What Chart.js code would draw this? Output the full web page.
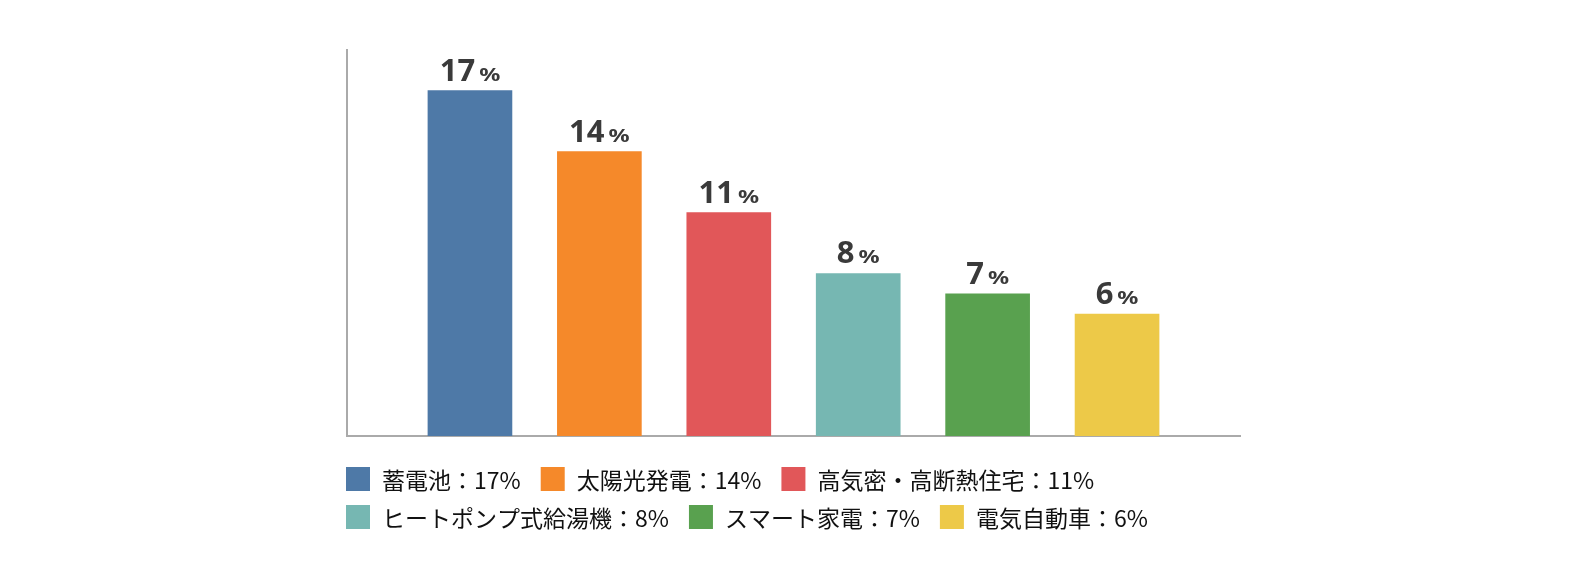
<!DOCTYPE html>
<html lang="ja">

<head>
    <meta charset="UTF-8">
    <title>省エネ設備 導入率</title>
    <style>
        html, body {
            margin: 0;
            padding: 0;
            background: #fff;
        }

        #wrap {
            width: 1584px;
            height: 580px;
        }
    </style>
</head>

<body>
    <div id="wrap">
        <canvas id="chart" width="1584" height="580"></canvas>
    </div>
    <script src="https://cdn.jsdelivr.net/npm/chart.js"></script>
    <script>
        // data
        const categories = ['蓄電池', '太陽光発電', '高気密・高断熱住宅', 'ヒートポンプ式給湯機', 'スマート家電', '電気自動車'];
        const values = [17, 14, 11, 8, 7, 6];
        const barColors = ['#4e79a7', '#f5892a', '#e15759', '#76b7b2', '#59a14f', '#edc948'];
        const yMax = 19;

        // value labels above the bars: big number + smaller "%"
        const valueLabels = {
            id: 'valueLabels',
            afterDatasetsDraw(chart) {
                const ctx = chart.ctx;
                const meta = chart.getDatasetMeta(0);
                ctx.save();
                ctx.fillStyle = '#3a3a3a';
                ctx.textBaseline = 'alphabetic';
                ctx.textAlign = 'left';
                meta.data.forEach((bar, i) => {
                    const num = String(values[i]);
                    ctx.font = 'bold 31px "Noto Sans"';
                    const wNum = ctx.measureText(num).width;
                    ctx.font = 'bold 18px "Noto Sans"';
                    const sx = 1.3;
                    const wPct = ctx.measureText('%').width * sx;
                    const gap = 4;
                    const total = wNum + gap + wPct;
                    const x0 = bar.x - total / 2;
                    const y = bar.y - 10;
                    ctx.font = 'bold 31px "Noto Sans"';
                    ctx.fillText(num, x0, y);
                    ctx.save();
                    ctx.translate(x0 + wNum + gap, y);
                    ctx.scale(sx, 1);
                    ctx.font = 'bold 18px "Noto Sans"';
                    ctx.fillText('%', 0, 0);
                    ctx.restore();
                });
                ctx.restore();
            }
        };

        // legend under the chart, left aligned with the y axis
        const rowLegend = {
            id: 'rowLegend',
            afterDraw(chart) {
                const ctx = chart.ctx;
                const area = chart.chartArea;
                const box = 24;
                const textGap = 12;
                const itemGap = 20;
                const rowPitch = 38;
                let x = area.left - 1;
                let top = 467;
                ctx.save();
                ctx.font = '23px "Noto Sans CJK JP"';
                ctx.textBaseline = 'middle';
                ctx.textAlign = 'left';
                categories.forEach((name, i) => {
                    const text = name + '：' + values[i] + '%';
                    const w = box + textGap + ctx.measureText(text).width;
                    if (x > area.left && x + w > area.right) {
                        x = area.left - 1;
                        top += rowPitch;
                    }
                    ctx.fillStyle = barColors[i];
                    ctx.fillRect(x, top, box, box);
                    ctx.fillStyle = '#111';
                    ctx.fillText(text, x + box + textGap, top + box / 2 + 1);
                    x += w + itemGap;
                });
                ctx.restore();
            }
        };

        new Chart(document.getElementById('chart'), {
            type: 'bar',
            data: {
                labels: categories,
                datasets: [{
                    data: values.map((v, i) => ({ x: i, y: v })),
                    backgroundColor: barColors,
                    borderWidth: 0,
                    barThickness: 84
                }]
            },
            options: {
                responsive: false,
                animation: false,
                layout: {
                    padding: { left: 347, right: 344, top: 50, bottom: 144 }
                },
                plugins: {
                    legend: { display: false },
                    tooltip: { enabled: false }
                },
                scales: {
                    x: {
                        type: 'linear',
                        min: -0.95,
                        max: 5.95,
                        offset: false,
                        grid: { display: false, drawTicks: false },
                        ticks: { display: false },
                        border: { display: true, color: '#aaaaaa', width: 2 },
                        afterFit(scale) { scale.height = 0; }
                    },
                    y: {
                        min: 0,
                        max: yMax,
                        grid: { display: false, drawTicks: false },
                        ticks: { display: false },
                        border: { display: true, color: '#aaaaaa', width: 2 },
                        afterFit(scale) { scale.width = 0; }
                    }
                }
            },
            plugins: [valueLabels, rowLegend]
        });
    </script>
</body>

</html>
